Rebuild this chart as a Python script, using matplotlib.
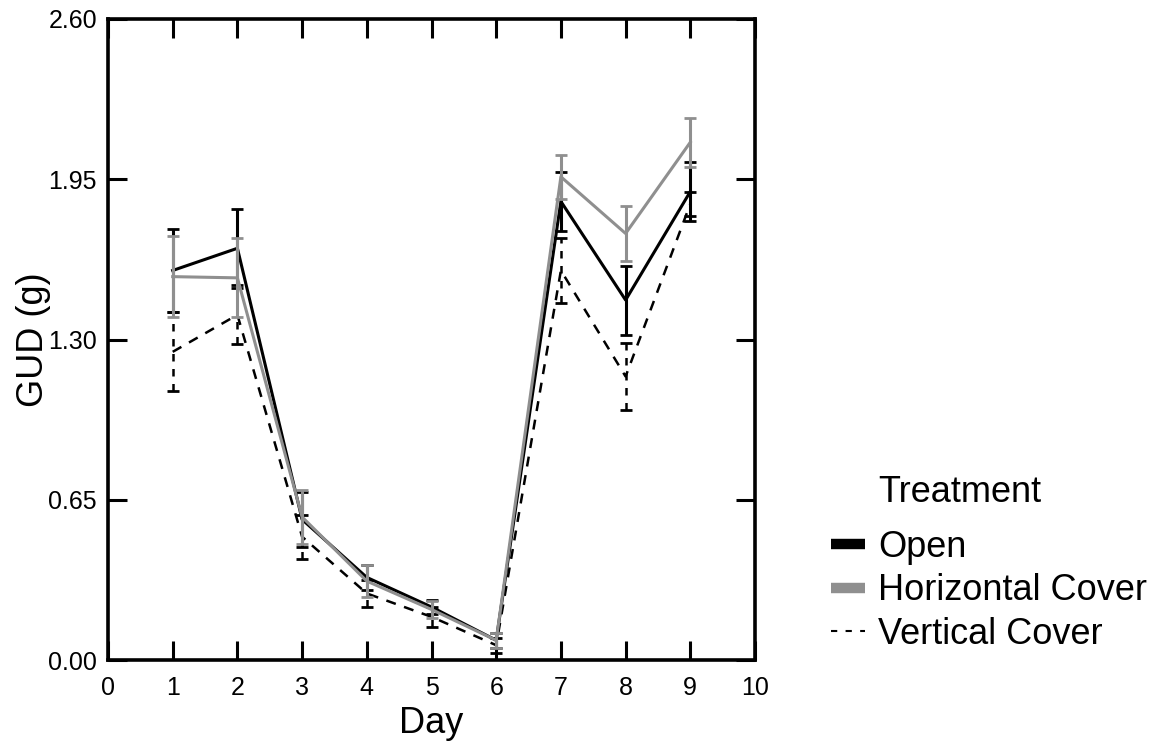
import numpy as np
import matplotlib
matplotlib.use("Agg")
import matplotlib.pyplot as plt
from matplotlib.lines import Line2D

plt.rcParams['font.family'] = ['Liberation Sans', 'DejaVu Sans']

days = [1, 2, 3, 4, 5, 6, 7, 8, 9]

open_mean = [1.58, 1.67, 0.57, 0.335, 0.215, 0.08, 1.86, 1.46, 1.90]
open_err = [0.17, 0.16, 0.11, 0.05, 0.03, 0.03, 0.12, 0.14, 0.12]

horiz_mean = [1.555, 1.55, 0.58, 0.32, 0.205, 0.08, 1.96, 1.73, 2.10]
horiz_err = [0.165, 0.16, 0.11, 0.065, 0.035, 0.03, 0.09, 0.11, 0.10]

vert_mean = [1.25, 1.40, 0.50, 0.27, 0.175, 0.06, 1.58, 1.15, 1.85]
vert_err = [0.16, 0.12, 0.09, 0.055, 0.04, 0.03, 0.13, 0.135, 0.05]

xticks = [0, 1, 2, 3, 4, 5, 6, 7, 8, 9, 10]
yticks = [0.00, 0.65, 1.30, 1.95, 2.60]
ytick_labels = ['0.00', '0.65', '1.30', '1.95', '2.60']

grey = '#8f8f8f'

fig = plt.figure(figsize=(11.62, 7.5), dpi=100)
ax = fig.add_axes([108/1162, 1 - 660/750, (755-108)/1162, (660-19)/750])

# vertical cover (dashed, also dashed error bars)
eb = ax.errorbar(days, vert_mean, yerr=vert_err, color='black', lw=1.8,
                 linestyle=(0, (4, 3.5)), elinewidth=1.8, capsize=4, capthick=2, zorder=2)
for bc in eb[2]:
    bc.set_linestyle((0, (3, 3)))

ax.errorbar(days, open_mean, yerr=open_err, color='black', lw=2.2,
            elinewidth=2.2, capsize=4, capthick=2, zorder=3)
ax.errorbar(days, horiz_mean, yerr=horiz_err, color=grey, lw=2.2,
            elinewidth=2.2, capsize=4, capthick=2, zorder=4)

ax.set_xlim(0, 10)
ax.set_ylim(0, 2.6)
ax.set_xticks(xticks)
ax.set_yticks(yticks)
ax.set_yticklabels(ytick_labels)
ax.tick_params(direction='in', length=14, width=2.2, labelsize=18,
               top=True, right=True, pad=8, color='black')
ax.tick_params(axis='x', pad=11.5)
for s in ax.spines.values():
    s.set_linewidth(2.6)

ax.set_xlabel('Day', fontsize=26, labelpad=4)
ax.set_ylabel('GUD (g)', fontsize=26, labelpad=-2)

handles = [
    Line2D([], [], color='black', lw=7.5, solid_capstyle='butt'),
    Line2D([], [], color=grey, lw=7.5, solid_capstyle='butt'),
    Line2D([], [], color='black', lw=1.5, linestyle=(0, (3, 4))),
]
labels = ['Open', 'Horizontal Cover', 'Vertical Cover']
fig.legend(handles, labels, loc='upper left', bbox_to_anchor=(831/1162, 1 - 530/750),
           frameon=False, fontsize=26, handlelength=0.95, handletextpad=0.35,
           labelspacing=0.23, borderpad=0, borderaxespad=0)
fig.text(878/1162, 1 - 492/750, 'Treatment', fontsize=26, va='center', ha='left')

fig.savefig('out.png', dpi=100)
